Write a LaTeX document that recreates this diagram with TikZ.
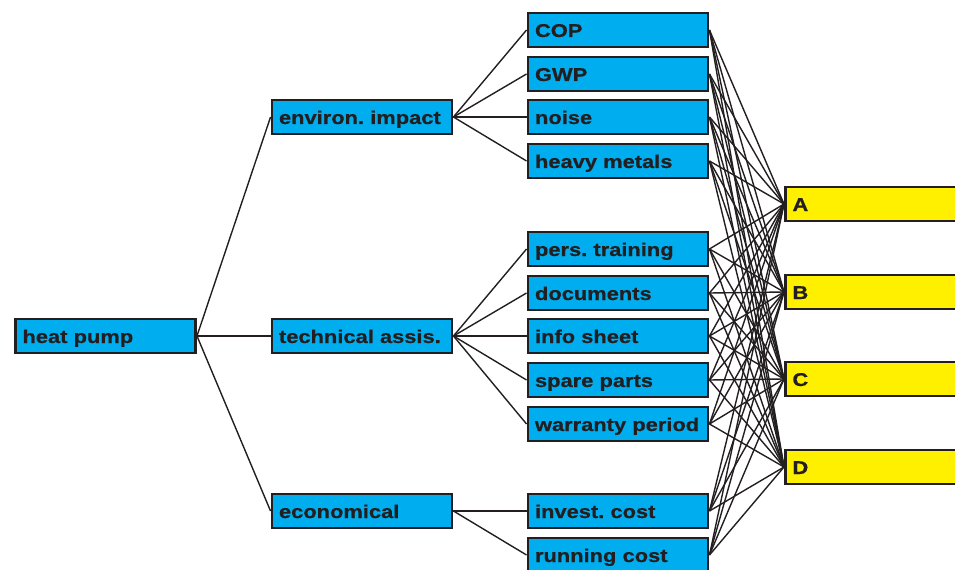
\documentclass[tikz,border=0pt]{standalone}
\usepackage{fontspec}
\setsansfont{Liberation Sans}[FakeStretch=1.18,BoldFeatures={FakeBold=0.7}]
\frenchspacing
\definecolor{boxblue}{RGB}{0,174,239}
\definecolor{boxyellow}{RGB}{255,240,0}
\definecolor{boxline}{RGB}{35,31,32}
\tikzset{
  critbox/.style={draw=boxline, line width=2.2pt, fill=boxblue, text width=124.5pt, inner xsep=5.25pt, minimum height=25.5pt, text height=12pt, text depth=1.5pt, align=left, font=\sffamily\bfseries\fontsize{13.9}{16}\selectfont, text=boxline},
  altbox/.style={critbox, fill=boxyellow, anchor=west, text width=150pt},
  link/.style={draw=boxline, line width=1.05pt}
}
\begin{document}
\begin{tikzpicture}[x=0.75pt,y=0.75pt,yscale=-1,xscale=1]
\useasboundingbox (0,0) rectangle (955,570);
% Shape: Rectangle -- goal
\node [critbox] (hp) at (105.5,336) {heat pump};
% Shape: Rectangle -- criteria
\node [critbox] (env) at (362,117) {environ. impact};
\node [critbox] (tech) at (362,336) {technical assis.};
\node [critbox] (eco) at (362,511) {economical};
% Shape: Rectangle -- sub criteria
\node [critbox] (cop) at (618,30) {COP};
\node [critbox] (gwp) at (618,74) {GWP};
\node [critbox] (noise) at (618,117) {noise};
\node [critbox] (heavy) at (618,161) {heavy metals};
\node [critbox] (train) at (618,249) {pers. training};
\node [critbox] (docs) at (618,293) {documents};
\node [critbox] (info) at (618,336) {info sheet};
\node [critbox] (spare) at (618,380) {spare parts};
\node [critbox] (warr) at (618,424) {warranty period};
\node [critbox] (inv) at (618,511) {invest. cost};
\node [critbox] (run) at (618,555) {running cost};
% Shape: Rectangle -- alternatives
\node [altbox] (A) at (784,204) {A};
\node [altbox] (B) at (784,292) {B};
\node [altbox] (C) at (784,379) {C};
\node [altbox] (D) at (784,467) {D};
% Straight Lines
\foreach \c in {env,tech,eco}
  \draw [link] (hp.east) -- (\c.west);
\foreach \s in {cop,gwp,noise,heavy}
  \draw [link] (env.east) -- (\s.west);
\foreach \s in {train,docs,info,spare,warr}
  \draw [link] (tech.east) -- (\s.west);
\foreach \s in {inv,run}
  \draw [link] (eco.east) -- (\s.west);
\foreach \s in {cop,gwp,noise,heavy,train,docs,info,spare,warr,inv,run}
  \foreach \a in {A,B,C,D}
    \draw [link] (\s.east) -- (\a.west);
\end{tikzpicture}
\end{document}
